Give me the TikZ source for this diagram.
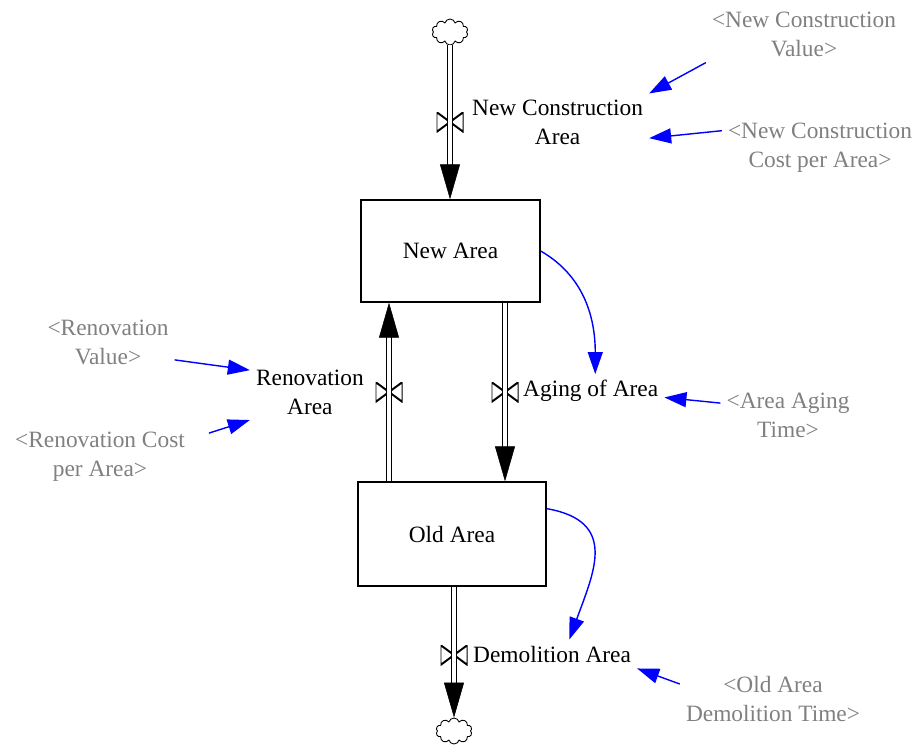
\documentclass[tikz,border=0pt]{standalone}
\usepackage{fontspec}
\setmainfont{Liberation Serif}
\usetikzlibrary{arrows.meta,shapes.symbols}
\definecolor{ghost}{RGB}{128,128,128}
\tikzset{
  stock/.style={draw, line width=0.8pt, inner sep=0pt},
  pipe/.style={draw, line width=0.8pt, double distance=2pt, shorten >=0.35cm},
  pipetip/.style={white, line width=0.3pt, -{Triangle[color=black, length=0.7cm, width=0.4cm]}},
  valve/.style={inner sep=0pt, minimum width=0.54cm, minimum height=0.4cm,
    path picture={\draw[line width=1.1pt] (path picture bounding box.north west) -- (path picture bounding box.south east)
      -- (path picture bounding box.north east) -- (path picture bounding box.south west) -- cycle;}},
  sink/.style={cloud, cloud puffs=10, aspect=1.3, draw, line width=0.5pt, minimum width=0.72cm, minimum height=0.52cm, inner sep=0pt},
  link/.style={blue, line width=0.8pt, -{Triangle[length=0.44cm, width=0.3cm]}},
  shadow/.style={text=ghost, align=center},
}
\begin{document}
\begin{tikzpicture}[font=\fontsize{13.3}{16.5}\selectfont]
      \useasboundingbox (0,0) rectangle (18.4,-15);
      %%%%%%%%%%%%%%%%%%%%%%%%%%%%%%%%%%%%%%%%%%%%%%%
      \node[stock, minimum width=3.58cm, minimum height=2.04cm] at (9.01,-5.02) (na) {New Area};
      \node[stock, minimum width=3.76cm, minimum height=2.08cm] at (9.04,-10.68) (oa) {Old Area};
      \node[sink] at (9.0,-0.64) (src) {};
      \node[sink] at (9.08,-14.62) (snk) {};
      %%%%%%%%%%%%%%%%%%%%%%%%%%%%%%%%%%%%%%%%%%%%%%%
      \node[valve] at (9.0,-2.44) (v1) {};
      \node[valve] at (7.78,-7.84) (v2) {};
      \node[valve] at (10.1,-7.84) (v3) {};
      \node[valve] at (9.08,-13.1) (v4) {};
      \draw[pipe] (src) -- (na.north -| src);
      \draw[pipe] (oa.north -| v2) -- (na.south -| v2);
      \draw[pipe] (na.south -| v3) -- (oa.north -| v3);
      \draw[pipe] (oa.south -| v4) -- (snk);
      \draw[pipetip] (v1) -- (na.north -| v1);
      \draw[pipetip] (v2) -- (na.south -| v2);
      \draw[pipetip] (v3) -- (oa.north -| v3);
      \draw[pipetip] (v4) -- (snk);
      %%%%%%%%%%%%%%%%%%%%%%%%%%%%%%%%%%%%%%%%%%%%%%%
      \node[align=center, anchor=west] at (9.32,-2.44) (f1) {New Construction\\Area};
      \node[align=center, anchor=east] at (7.4,-7.84) (f2) {Renovation\\Area};
      \node[anchor=west] at (10.34,-7.82) (f3) {Aging of Area};
      \node[anchor=west] at (9.34,-13.08) (f4) {Demolition Area};
      %%%%%%%%%%%%%%%%%%%%%%%%%%%%%%%%%%%%%%%%%%%%%%%
      \node[shadow] at (16.08,-0.68) (s1) {<New Construction\\Value>};
      \node[shadow] at (16.4,-2.96) (s2) {<New Construction\\Cost per Area>};
      \node[shadow] at (2.16,-6.84) (s3) {<Renovation\\Value>};
      \node[shadow] at (2.0,-9.14) (s4) {<Renovation Cost\\per Area>};
      \node[shadow] at (15.76,-8.3) (s5) {<Area Aging\\Time>};
      \node[shadow] at (15.46,-13.98) (s6) {<Old Area\\Demolition Time>};
      \draw[link] (s1.south west) -- (f1.north east);
      \draw[link] (s2.170) -- (f1.-10);
      \draw[link] (s3.-15) -- (f2.160);
      \draw[link] ([shift={(0.36,-0.14)}]s4.north east) -- (f2.205);
      \draw[link] (s5.170) -- (f3.-5);
      \draw[link] ([yshift=0.3cm]s6.west) -- (f4.south east);
      \draw[link] (na.east) to[out=-30, in=90] (f3.75);
      \draw[link] (oa.15) to[out=-10, in=70, looseness=1.4] (f4.40);
      %%%%%%%%%%%%%%%%%%%%%%%%%%%%%%%%%%%%%%%%%%%%%%%
\end{tikzpicture}
\end{document}
